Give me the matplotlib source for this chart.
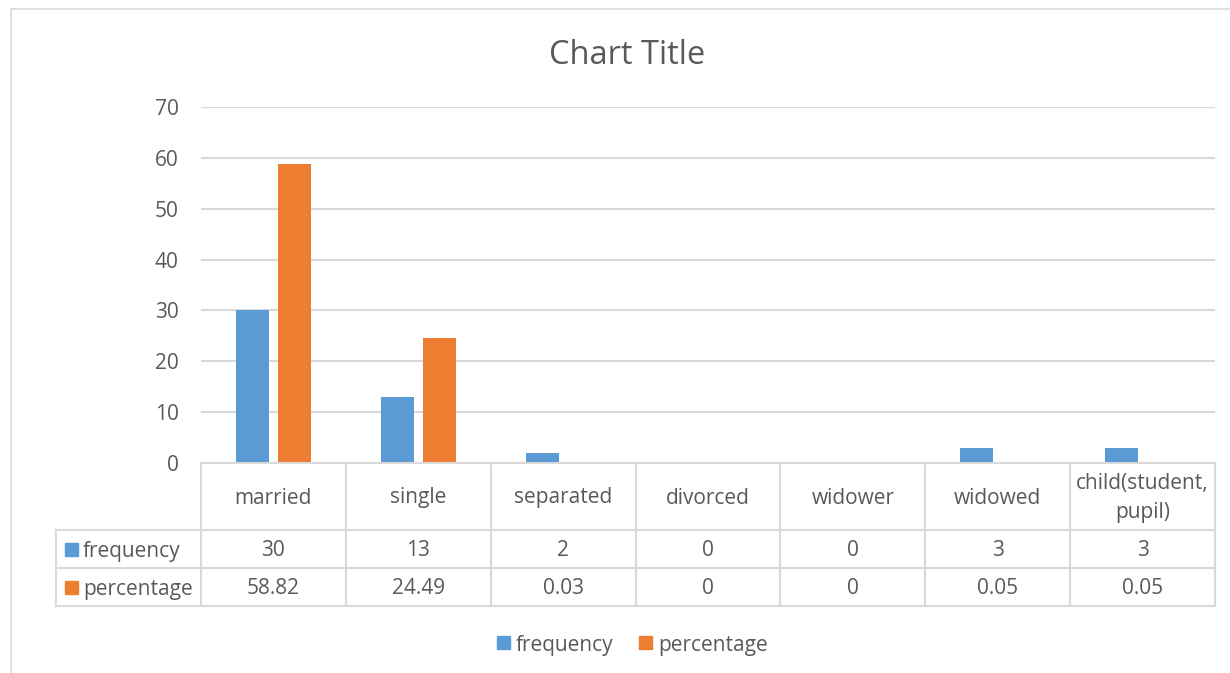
import matplotlib
matplotlib.use("Agg")
import matplotlib.pyplot as plt
from matplotlib.transforms import blended_transform_factory
from matplotlib.patches import Rectangle
import numpy as np

# ----------------------------------------------------------
# DATA
# ----------------------------------------------------------

categories = ["married", "single", "separated", "divorced",
              "widower", "widowed", "child(student,\npupil)"]
frequency = [30, 13, 2, 0, 0, 3, 3]
percentage = [58.82, 24.49, 0.03, 0, 0, 0.05, 0.05]
freq_labels = ["30", "13", "2", "0", "0", "3", "3"]
pct_labels = ["58.82", "24.49", "0.03", "0", "0", "0.05", "0.05"]
y_ticks = [0, 10, 20, 30, 40, 50, 60, 70]

BLUE = "#5b9bd5"
ORANGE = "#ed7d31"
GRID = "#d9d9d9"
TEXT = "#595959"
FS = 15

W, H = 1230, 673
plt.rcParams["font.family"] = ["Open Sans", "DejaVu Sans"]

fig = plt.figure(figsize=(W / 100, H / 100), dpi=100)


def fx(px):
    return px / W


def fy(py):
    return 1 - py / H


# outer chart border
fig.patches.append(Rectangle((fx(11), fy(680)), fx(1240) - fx(11), fy(9) - fy(680),
                             transform=fig.transFigure, fill=False,
                             edgecolor=GRID, linewidth=1.2))

# plot area
ax = fig.add_axes([fx(201), fy(463), fx(1215) - fx(201), fy(107) - fy(463)])
x = np.arange(len(categories))
bw = 0.228
ax.bar(x - 0.145, frequency, bw, color=BLUE, zorder=3)
ax.bar(x + 0.145, percentage, bw, color=ORANGE, zorder=3)

ax.set_xlim(-0.5, len(categories) - 0.5)
ax.set_ylim(0, 70)
ax.set_yticks(y_ticks)
ax.set_xticks([])
ax.yaxis.grid(True, color=GRID, linewidth=1.5, zorder=0)
ax.tick_params(axis="y", length=0, pad=16, labelsize=FS, labelcolor=TEXT)
for s in ax.spines.values():
    s.set_visible(False)

fig.text(fx(627), fy(55), "Chart Title", ha="center", va="center",
         fontsize=23.5, color=TEXT)

# ----------------------------------------------------------
# DATA TABLE UNDER THE AXIS
# ----------------------------------------------------------

tr = blended_transform_factory(ax.transData, fig.transFigure)
row_tops = [463, 530, 568, 606]
n = len(categories)
line_kw = dict(color=GRID, linewidth=1.5, transform=tr, clip_on=False)

# horizontal lines
fig.add_artist(plt.Line2D([-0.5, n - 0.5], [fy(463)] * 2, **line_kw))
for py in row_tops[1:]:
    fig.add_artist(plt.Line2D([-1.5, n - 0.5], [fy(py)] * 2, **line_kw))

# vertical lines
for i in range(n + 1):
    fig.add_artist(plt.Line2D([i - 0.5] * 2, [fy(463), fy(606)], **line_kw))
fig.add_artist(plt.Line2D([-1.5] * 2, [fy(530), fy(606)], **line_kw))

cell_kw = dict(ha="center", va="center", fontsize=FS, color=TEXT,
               transform=tr, linespacing=1.5)
for i, cat in enumerate(categories):
    fig.text(i, fy(498), cat, **cell_kw)
    fig.text(i, fy(551), freq_labels[i], **cell_kw)
    fig.text(i, fy(589), pct_labels[i], **cell_kw)

# series keys in the table
for py, name, col in [(549, "frequency", BLUE), (587, "percentage", ORANGE)]:
    fig.patches.append(Rectangle((fx(65), fy(py + 7)), fx(13), fy(py - 6) - fy(py + 7),
                                 transform=fig.transFigure, color=col))
    fig.text(fx(83), fy(py + 2), name, ha="left", va="center",
             fontsize=FS, color=TEXT)

# legend
for px, name, col in [(497, "frequency", BLUE), (639, "percentage", ORANGE)]:
    fig.patches.append(Rectangle((fx(px), fy(649)), fx(13), fy(636) - fy(649),
                                 transform=fig.transFigure, color=col))
    fig.text(fx(px + 19), fy(645), name, ha="left", va="center",
             fontsize=FS, color=TEXT)

fig.savefig("out.png", dpi=100)
